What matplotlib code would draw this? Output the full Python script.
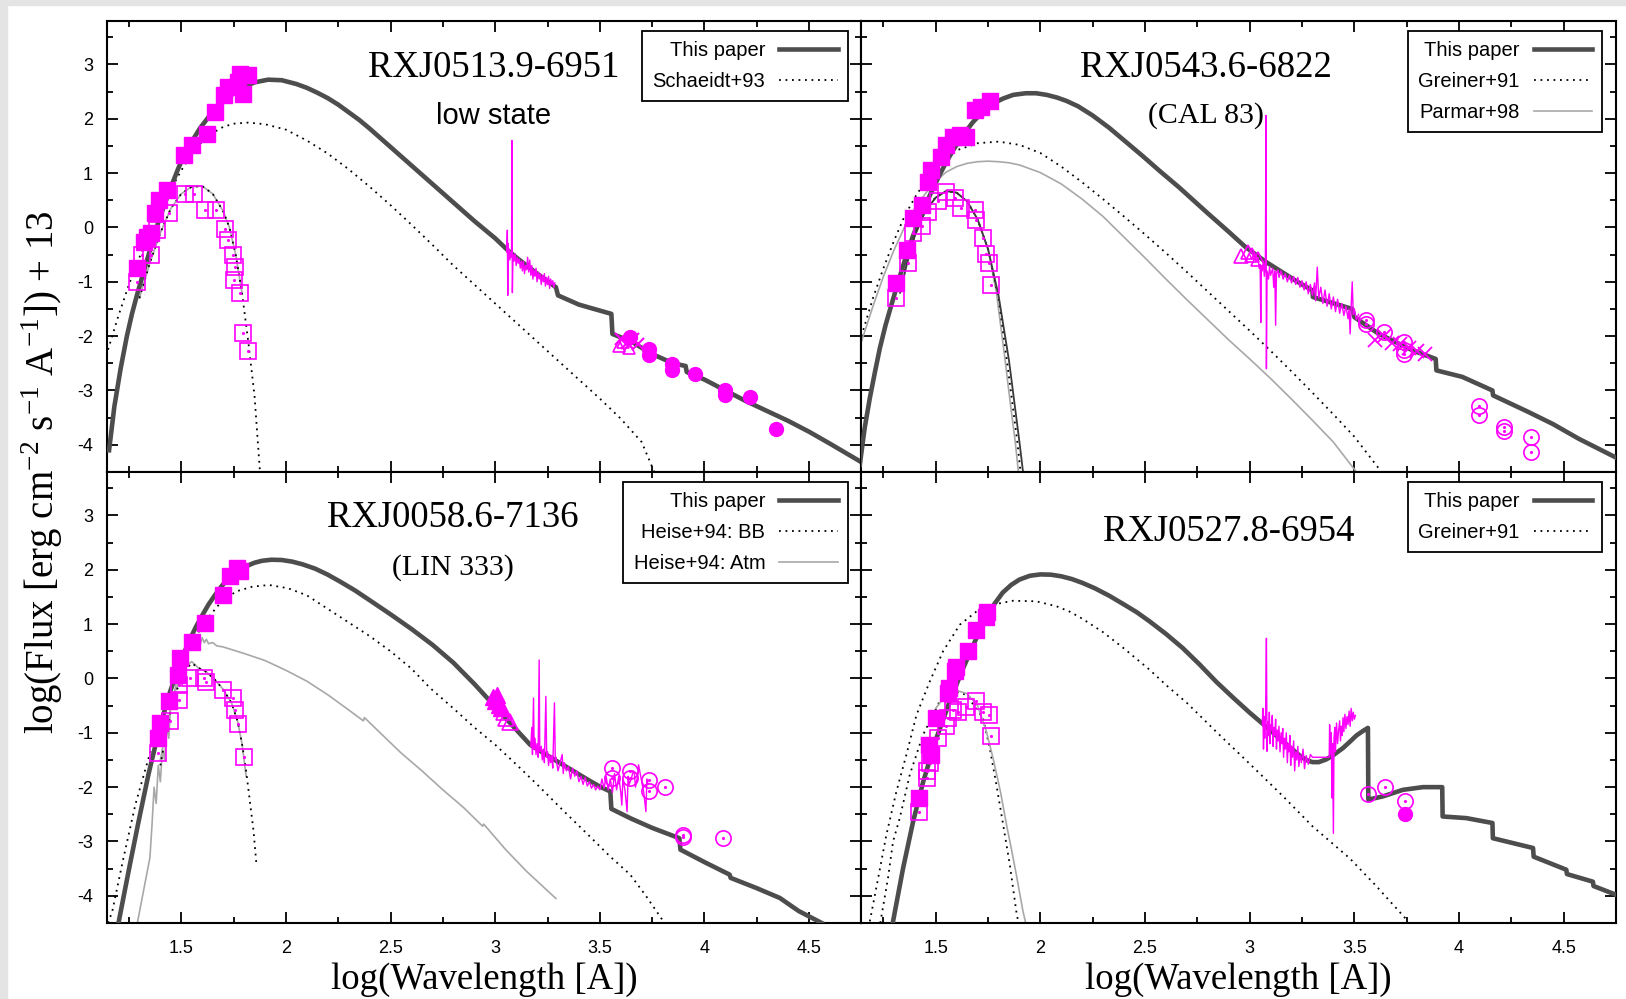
import matplotlib
matplotlib.use("Agg")
import matplotlib.pyplot as plt
from matplotlib.ticker import MultipleLocator, FixedLocator, FixedFormatter
from matplotlib.patches import Rectangle

plt.rcParams['font.family'] = 'Liberation Sans'
plt.rcParams['axes.unicode_minus'] = False

MAG = '#ff00ff'
MODEL = '#4d4d4d'
GREY = '#a8a8a8'
SERIF = 'Liberation Serif'

# ---------------- RXJ0513.9-6951 (low state) ----------------
p1_model_x = [1.155, 1.18, 1.21, 1.24, 1.265, 1.29, 1.313, 1.353, 1.392, 1.44, 1.487, 1.52, 1.55, 1.59, 1.63,
              1.67, 1.71, 1.75, 1.79, 1.85, 1.915, 1.98, 2.05, 2.10, 2.15, 2.20, 2.25, 2.30, 2.35, 2.40, 2.45,
              2.50, 2.60, 2.70, 2.80, 2.90, 3.00, 3.06, 3.10, 3.20, 3.29, 3.30, 3.40, 3.50, 3.555, 3.56, 3.65,
              3.75, 3.85, 3.91, 3.915, 4.00, 4.10, 4.20, 4.30, 4.40, 4.50, 4.60, 4.75]
p1_model_y = [-4.1, -3.3, -2.6, -2.0, -1.58, -1.22, -0.91, -0.38, 0.12, 0.64, 1.10, 1.37, 1.58, 1.83, 2.03,
              2.20, 2.34, 2.47, 2.57, 2.67, 2.72, 2.71, 2.64, 2.57, 2.48, 2.38, 2.26, 2.12, 1.98, 1.82, 1.65,
              1.48, 1.14, 0.80, 0.46, 0.12, -0.20, -0.42, -0.55, -0.85, -1.10, -1.25, -1.42, -1.53, -1.59,
              -1.96, -2.10, -2.33, -2.50, -2.55, -2.66, -2.80, -3.00, -3.20, -3.38, -3.56, -3.76, -3.98, -4.32]
p1_bb_x = [1.15, 1.20, 1.25, 1.30, 1.35, 1.40, 1.45, 1.50, 1.55, 1.60, 1.65, 1.70, 1.75, 1.82, 1.90, 2.00,
           2.10, 2.20, 2.30, 2.40, 2.50, 2.60, 2.70, 2.80, 2.90, 3.00, 3.10, 3.20, 3.30, 3.40, 3.50, 3.60,
           3.70, 3.76]
p1_bb_y = [-2.25, -1.62, -1.05, -0.55, -0.1, 0.32, 0.7, 1.05, 1.35, 1.58, 1.74, 1.85, 1.91, 1.93, 1.90, 1.80,
           1.60, 1.36, 1.07, 0.75, 0.41, 0.05, -0.32, -0.70, -1.05, -1.40, -1.75, -2.10, -2.45, -2.80, -3.15,
           -3.52, -3.95, -4.50]
p1_bump_x = [1.30, 1.35, 1.40, 1.45, 1.50, 1.55, 1.60, 1.65, 1.70, 1.73, 1.76, 1.79, 1.82, 1.85, 1.876]
p1_bump_y = [-1.3, -0.65, -0.1, 0.35, 0.62, 0.75, 0.76, 0.62, 0.3, 0.0, -0.5, -1.2, -2.1, -3.1, -4.5]
p1_fsq_x = [1.289, 1.321, 1.337, 1.353, 1.376, 1.392, 1.432, 1.511, 1.551, 1.622, 1.662, 1.706, 1.725,
            1.773, 1.780, 1.820, 1.796]
p1_fsq_y = [-0.75, -0.26, -0.17, -0.11, 0.26, 0.50, 0.69, 1.33, 1.51, 1.72, 2.12, 2.43, 2.58, 2.67, 2.83,
            2.80, 2.46]
p1_osq_x = [1.289, 1.313, 1.353, 1.384, 1.44, 1.52, 1.559, 1.614, 1.665, 1.709, 1.722, 1.749, 1.757, 1.754,
            1.78, 1.796, 1.82]
p1_osq_y = [-1.0, -0.51, -0.51, -0.05, 0.26, 0.62, 0.62, 0.32, 0.32, -0.02, -0.23, -0.51, -0.72, -0.97,
            -1.21, -1.94, -2.28]
p1_spec_x = [3.055, 3.058, 3.060, 3.062, 3.064, 3.066, 3.070, 3.075, 3.078, 3.080, 3.082, 3.085, 3.09, 3.095,
             3.10, 3.105, 3.11, 3.115, 3.12, 3.125, 3.13, 3.135, 3.14, 3.145, 3.15, 3.155, 3.16, 3.165, 3.17,
             3.175, 3.18, 3.185, 3.19, 3.195, 3.20, 3.205, 3.21, 3.215, 3.22, 3.225, 3.23, 3.235, 3.24, 3.245,
             3.25, 3.255, 3.26, 3.265, 3.27, 3.275, 3.28, 3.285]
p1_spec_y = [-0.45, -0.05, -1.25, -0.30, -0.55, -0.40, -0.60, -0.45, -0.55, 1.60, -1.20, -0.50, -0.62, -0.48,
             -0.70, -0.55, -0.66, -0.58, -0.75, -0.62, -0.80, -0.62, -0.85, -0.70, -0.78, -0.55, -0.82, -0.60,
             -0.88, -0.70, -0.95, -0.78, -0.90, -0.75, -1.00, -0.82, -0.95, -0.85, -1.05, -0.88, -1.00, -0.85,
             -1.08, -0.92, -1.05, -0.90, -1.12, -0.95, -1.05, -0.98, -1.10, -1.02]
p1_fcirc_x = [3.646, 3.734, 3.734, 3.845, 3.845, 3.954, 4.097, 4.097, 4.217, 4.343]
p1_fcirc_y = [-2.02, -2.23, -2.35, -2.51, -2.63, -2.70, -3.00, -3.09, -3.12, -3.71]
p1_cross_x = [3.60, 3.63, 3.66, 3.68]
p1_cross_y = [-2.05, -2.12, -2.05, -2.15]
p1_tri_x = [3.59, 3.61, 3.64]
p1_tri_y = [-2.18, -2.10, -2.22]

# ---------------- RXJ0543.6-6822 (CAL 83) ----------------
p2_model_x = [1.137, 1.16, 1.185, 1.21, 1.233, 1.26, 1.296, 1.33, 1.36, 1.39, 1.424, 1.455, 1.487, 1.52,
              1.551, 1.58, 1.615, 1.65, 1.678, 1.71, 1.742, 1.78, 1.82, 1.87, 1.93, 1.98, 2.03, 2.08, 2.124,
              2.18, 2.25, 2.33, 2.41, 2.49, 2.57, 2.662, 2.80, 2.90, 2.98, 3.076, 3.22, 3.30, 3.302, 3.49, 3.50,
              3.618, 3.777, 3.889, 3.892, 4.016, 4.16, 4.163, 4.334, 4.45, 4.573, 4.748]
p2_model_y = [-4.37, -3.70, -3.14, -2.65, -2.22, -1.80, -1.32, -0.88, -0.51, -0.17, 0.17, 0.45, 0.72, 0.98,
              1.21, 1.40, 1.62, 1.80, 1.94, 2.07, 2.18, 2.29, 2.37, 2.44, 2.47, 2.47, 2.44, 2.39, 2.33, 2.23,
              2.06, 1.83, 1.57, 1.31, 1.04, 0.74, 0.26, -0.08, -0.36, -0.63, -0.98, -1.16, -1.28, -1.50, -1.65,
              -1.96, -2.26, -2.42, -2.63, -2.75, -3.00, -3.09, -3.40, -3.62, -3.89, -4.23]
p2_bb_x = [1.145, 1.2, 1.25, 1.3, 1.35, 1.4, 1.45, 1.5, 1.55, 1.6, 1.7, 1.8, 1.9, 2.0, 2.1, 2.2, 2.3, 2.4,
           2.5, 2.6, 2.7, 2.8, 2.9, 3.0, 3.1, 3.2, 3.3, 3.4, 3.5, 3.62]
p2_bb_y = [-2.0, -1.3, -0.75, -0.25, 0.2, 0.55, 0.85, 1.1, 1.28, 1.42, 1.55, 1.58, 1.52, 1.37, 1.12, 0.83,
           0.52, 0.2, -0.13, -0.47, -0.82, -1.18, -1.54, -1.90, -2.27, -2.65, -3.04, -3.44, -3.85, -4.45]
p2_parmar_x = [1.145, 1.2, 1.25, 1.3, 1.35, 1.4, 1.45, 1.5, 1.55, 1.6, 1.65, 1.7, 1.75, 1.8, 1.85, 1.9, 2.0,
               2.1, 2.2, 2.3, 2.4, 2.5, 2.6, 2.7, 2.8, 2.9, 3.0, 3.1, 3.2, 3.3, 3.4, 3.51]
p2_parmar_y = [-2.1, -1.45, -0.9, -0.42, 0.0, 0.35, 0.62, 0.85, 1.02, 1.12, 1.18, 1.21, 1.22, 1.21, 1.19, 1.15,
               1.01, 0.80, 0.52, 0.20, -0.18, -0.56, -0.95, -1.33, -1.70, -2.07, -2.42, -2.78, -3.16, -3.55,
               -3.95, -4.50]
p2_bump_x = [1.33, 1.36, 1.40, 1.45, 1.50, 1.55, 1.60, 1.65, 1.70, 1.75, 1.80, 1.85, 1.88, 1.90, 1.917]
p2_bump_y = [-1.2, -0.7, -0.15, 0.3, 0.55, 0.67, 0.64, 0.48, 0.15, -0.4, -1.25, -2.45, -3.35, -3.95, -4.5]
p2_bump_grey_x = [1.33, 1.36, 1.40, 1.45, 1.50, 1.55, 1.60, 1.65, 1.70, 1.75, 1.79, 1.83, 1.86, 1.88, 1.895]
p2_bump_grey_y = [-1.2, -0.7, -0.15, 0.3, 0.55, 0.67, 0.64, 0.48, 0.15, -0.4, -1.2, -2.4, -3.35, -3.95, -4.5]
p2_bump_bb_x = [1.33, 1.36, 1.40, 1.45, 1.50, 1.55, 1.60, 1.65, 1.70, 1.75, 1.80, 1.84, 1.87, 1.89, 1.905]
p2_bump_bb_y = [-1.15, -0.65, -0.1, 0.32, 0.56, 0.67, 0.64, 0.48, 0.15, -0.4, -1.3, -2.45, -3.35, -3.95, -4.5]
p2_fsq_x = [1.312, 1.365, 1.392, 1.432, 1.463, 1.479, 1.527, 1.551, 1.583, 1.615, 1.646, 1.686, 1.718, 1.758]
p2_fsq_y = [-1.03, -0.41, 0.17, 0.41, 0.84, 1.06, 1.30, 1.52, 1.67, 1.70, 1.67, 2.16, 2.22, 2.32]
p2_osq_x = [1.312, 1.368, 1.392, 1.432, 1.463, 1.51, 1.551, 1.591, 1.623, 1.686, 1.694, 1.726, 1.742, 1.755,
            1.766]
p2_osq_y = [-1.30, -0.66, -0.11, 0.02, 0.29, 0.48, 0.66, 0.54, 0.35, 0.32, 0.14, -0.20, -0.48, -0.66, -1.06]
p2_spec_x = [3.000, 3.01, 3.02, 3.03, 3.04, 3.045, 3.05, 3.053, 3.056, 3.06, 3.065, 3.07, 3.075, 3.078, 3.080,
             3.083, 3.09, 3.095, 3.10, 3.11, 3.115, 3.12, 3.124, 3.128, 3.135, 3.14, 3.15, 3.16, 3.17, 3.18,
             3.19, 3.20, 3.21, 3.22, 3.23, 3.24, 3.25, 3.26, 3.27, 3.28, 3.29, 3.30, 3.31, 3.315, 3.323, 3.33,
             3.34, 3.35, 3.36, 3.37, 3.38, 3.39, 3.40, 3.41, 3.42, 3.43, 3.44, 3.45, 3.46, 3.47, 3.475, 3.48,
             3.485, 3.49, 3.495, 3.50, 3.51, 3.52]
p2_spec_y = [-0.50, -0.58, -0.48, -0.62, -0.55, -0.75, -0.68, -1.75, -0.70, -0.80, -0.62, -0.90, -0.70, 2.06,
             -2.60, -0.80, -0.95, -0.72, -0.88, -0.75, -1.10, -0.80, -1.80, -0.85, -0.78, -0.92, -0.80, -0.95,
             -0.85, -1.00, -0.88, -1.02, -0.90, -1.05, -0.92, -1.10, -0.98, -1.15, -1.00, -1.22, -1.05, -1.25,
             -1.02, -1.35, -0.73, -1.30, -1.10, -1.40, -1.15, -1.45, -1.22, -1.50, -1.28, -1.55, -1.32, -1.58,
             -1.40, -1.62, -1.45, -1.68, -1.50, -1.96, -1.45, -1.00, -1.60, -1.50, -1.70, -1.60]
p2_tri_x = [2.96, 2.99, 3.01, 3.04]
p2_tri_y = [-0.52, -0.45, -0.50, -0.58]
p2_circ_x = [3.557, 3.557, 3.642, 3.737, 3.737, 3.737, 4.096, 4.096, 4.215, 4.215, 4.342, 4.342]
p2_circ_y = [-1.71, -1.77, -1.93, -2.11, -2.26, -2.33, -3.29, -3.46, -3.67, -3.75, -3.85, -4.13]
p2_cross_x = [3.60, 3.64, 3.68, 3.72, 3.76, 3.80, 3.84]
p2_cross_y = [-2.08, -2.00, -2.12, -2.15, -2.22, -2.28, -2.32]

# ---------------- RXJ0058.6-7136 (LIN 333) ----------------
p3_model_x = [1.20, 1.248, 1.296, 1.344, 1.392, 1.44, 1.487, 1.535, 1.57, 1.60, 1.63, 1.662, 1.695, 1.726,
              1.76, 1.806, 1.85, 1.885, 1.93, 1.98, 2.03, 2.08, 2.14, 2.20, 2.26, 2.33, 2.40, 2.50, 2.60, 2.70,
              2.80, 2.90, 3.00, 3.10, 3.167, 3.25, 3.35, 3.45, 3.50, 3.55, 3.555, 3.65, 3.75, 3.88, 3.885, 4.00,
              4.12, 4.125, 4.25, 4.36, 4.45, 4.56]
p3_model_y = [-4.5, -3.55, -2.63, -1.75, -0.98, -0.32, 0.22, 0.67, 0.95, 1.16, 1.36, 1.54, 1.71, 1.84, 1.96,
              2.06, 2.13, 2.165, 2.185, 2.18, 2.15, 2.10, 2.02, 1.91, 1.78, 1.62, 1.44, 1.18, 0.91, 0.62, 0.29,
              -0.10, -0.52, -0.94, -1.22, -1.42, -1.65, -1.88, -1.99, -2.08, -2.40, -2.58, -2.75, -2.94, -3.15,
              -3.38, -3.61, -3.67, -3.86, -4.04, -4.28, -4.50]
p3_bb_x = [1.15, 1.17, 1.22, 1.28, 1.33, 1.39, 1.455, 1.52, 1.60, 1.68, 1.76, 1.84, 1.92, 2.01, 2.10, 2.20,
           2.30, 2.40, 2.50, 2.60, 2.69, 2.80, 2.90, 3.00, 3.10, 3.20, 3.33, 3.45, 3.55, 3.645, 3.72, 3.80]
p3_bb_y = [-4.5, -4.29, -3.37, -2.33, -1.65, -0.85, -0.18, 0.37, 0.99, 1.36, 1.60, 1.69, 1.72, 1.66, 1.53,
           1.28, 1.03, 0.78, 0.50, 0.18, -0.18, -0.55, -0.90, -1.22, -1.58, -1.95, -2.45, -2.90, -3.28, -3.61,
           -4.0, -4.45]
p3_atm_x = [1.29, 1.31, 1.33, 1.35, 1.36, 1.37, 1.38, 1.39, 1.40, 1.41, 1.42, 1.43, 1.44, 1.45, 1.46, 1.48,
            1.50, 1.52, 1.54, 1.55, 1.56, 1.57, 1.58, 1.59, 1.60, 1.61, 1.62, 1.63, 1.65, 1.67, 1.70, 1.75,
            1.80, 1.90, 2.00, 2.10, 2.20, 2.30, 2.37, 2.375, 2.45, 2.55, 2.65, 2.75, 2.85, 2.94, 2.945, 3.05,
            3.15, 3.29]
p3_atm_y = [-4.5, -4.1, -3.7, -3.3, -2.7, -2.0, -2.3, -1.6, -1.9, -1.3, -1.5, -0.9, -1.1, -0.5, -0.4, 0.0,
            0.25, 0.45, 0.62, 0.55, 0.74, 0.60, 0.70, 0.62, 0.75, 0.66, 0.72, 0.64, 0.66, 0.60, 0.58, 0.52,
            0.46, 0.33, 0.15, -0.05, -0.30, -0.58, -0.78, -0.72, -1.00, -1.37, -1.70, -2.05, -2.38, -2.72,
            -2.68, -3.15, -3.55, -4.05]
p3_bump_x = [1.40, 1.43, 1.46, 1.50, 1.53, 1.55, 1.58, 1.62, 1.66, 1.70, 1.74, 1.77, 1.79, 1.81]
p3_bump_y = [-1.5, -0.9, -0.35, 0.05, 0.25, 0.31, 0.20, 0.12, -0.02, -0.20, -0.45, -0.80, -1.20, -1.80]
p3_bump_bb_x = [1.40, 1.43, 1.46, 1.50, 1.53, 1.55, 1.58, 1.62, 1.66, 1.70, 1.74, 1.77, 1.79, 1.806, 1.822,
                1.845, 1.86]
p3_bump_bb_y = [-1.6, -0.95, -0.4, 0.0, 0.2, 0.28, 0.2, 0.12, -0.02, -0.2, -0.45, -0.8, -1.2, -1.59, -2.08,
                -2.8, -3.46]
p3_fsq_x = [1.389, 1.40, 1.439, 1.484, 1.492, 1.551, 1.615, 1.697, 1.734, 1.766, 1.782]
p3_fsq_y = [-1.10, -0.82, -0.42, 0.07, 0.37, 0.68, 1.02, 1.54, 1.88, 2.03, 1.97]
p3_osq_x = [1.389, 1.447, 1.487, 1.49, 1.543, 1.607, 1.619, 1.697, 1.747, 1.758, 1.771, 1.798]
p3_osq_y = [-1.37, -0.78, -0.39, -0.12, 0.0, 0.0, -0.06, -0.21, -0.36, -0.58, -0.84, -1.45]
p3_ftri_x = [2.99, 3.00, 3.01, 3.02, 3.03]
p3_ftri_y = [-0.35, -0.42, -0.30, -0.48, -0.55]
p3_otri_x = [3.04, 3.05, 3.07]
p3_otri_y = [-0.62, -0.72, -0.80]
p3_spec_x = [3.17, 3.175, 3.178, 3.183, 3.186, 3.19, 3.195, 3.20, 3.205, 3.21, 3.213, 3.22, 3.225, 3.23,
             3.235, 3.242, 3.246, 3.25, 3.255, 3.26, 3.265, 3.27, 3.275, 3.283, 3.287, 3.29, 3.30, 3.31, 3.32,
             3.325, 3.33, 3.34, 3.35, 3.36, 3.37, 3.38, 3.39, 3.40, 3.41, 3.42, 3.43, 3.44, 3.45, 3.46, 3.47,
             3.48, 3.49, 3.50, 3.51, 3.52, 3.53, 3.54, 3.55, 3.56, 3.57, 3.58, 3.59, 3.60, 3.605, 3.61, 3.62,
             3.63, 3.635, 3.64, 3.65, 3.66, 3.665, 3.67, 3.68, 3.685, 3.70, 3.71, 3.72, 3.725, 3.73]
p3_spec_y = [-1.25, -0.90, -1.40, -0.36, -1.30, -1.10, -1.40, -1.20, -1.45, 0.34, -1.35, -1.25, -1.50, -1.30,
             -1.55, -0.33, -1.45, -1.35, -1.60, -1.40, -1.55, -1.42, -1.65, -0.45, -1.50, -1.45, -1.70, -1.55,
             -1.40, -1.75, -1.55, -1.70, -1.62, -1.85, -1.65, -1.80, -1.70, -1.90, -1.80, -1.95, -1.82, -1.98,
             -1.90, -2.02, -1.95, -2.05, -1.98, -2.05, -1.85, -2.02, -1.80, -2.05, -1.85, -2.10, -1.75, -2.05,
             -1.80, -2.10, -2.33, -1.85, -2.05, -2.45, -1.80, -1.95, -1.85, -1.70, -1.75, -2.00, -1.80, -1.59,
             -1.90, -2.10, -2.45, -1.85, -1.95]
p3_circ_x = [3.557, 3.557, 3.642, 3.642, 3.737, 3.737, 3.81, 3.896, 3.896, 4.09]
p3_circ_y = [-1.65, -1.83, -1.71, -1.83, -1.87, -2.08, -1.99, -2.88, -2.92, -2.94]

# ---------------- RXJ0527.8-6954 ----------------
p4_model_x = [1.296, 1.344, 1.392, 1.44, 1.503, 1.567, 1.631, 1.694, 1.74, 1.78, 1.82, 1.86, 1.90, 1.95, 2.00,
              2.05, 2.10, 2.15, 2.20, 2.26, 2.33, 2.40, 2.46, 2.522, 2.60, 2.68, 2.76, 2.84, 2.92, 3.00, 3.064,
              3.16, 3.239, 3.27, 3.30, 3.33, 3.366, 3.40, 3.446, 3.48, 3.51, 3.54, 3.565, 3.567, 3.637, 3.732,
              3.828, 3.92, 3.922, 4.035, 4.16, 4.162, 4.354, 4.357, 4.513, 4.516, 4.64, 4.643, 4.75]
p4_model_y = [-4.47, -3.49, -2.63, -1.90, -1.10, -0.42, 0.19, 0.74, 1.10, 1.37, 1.58, 1.72, 1.82, 1.89, 1.915,
              1.91, 1.88, 1.83, 1.76, 1.66, 1.52, 1.36, 1.22, 1.05, 0.82, 0.56, 0.26, -0.06, -0.35, -0.63, -0.84,
              -1.16, -1.42, -1.50, -1.54, -1.54, -1.49, -1.41, -1.28, -1.16, -1.05, -0.97, -0.91, -2.23, -2.17,
              -2.05, -2.00, -2.00, -2.54, -2.57, -2.66, -2.94, -3.12, -3.28, -3.52, -3.60, -3.74, -3.82, -3.98]
p4_bb_x = [1.185, 1.225, 1.264, 1.312, 1.36, 1.408, 1.471, 1.535, 1.615, 1.694, 1.774, 1.869, 1.98, 2.076,
           2.14, 2.20, 2.30, 2.40, 2.522, 2.60, 2.70, 2.84, 3.00, 3.16, 3.30, 3.478, 3.60, 3.75]
p4_bb_y = [-4.47, -3.67, -2.88, -2.08, -1.40, -0.67, -0.06, 0.50, 0.99, 1.23, 1.36, 1.43, 1.42, 1.33, 1.23,
           1.10, 0.85, 0.55, 0.16, -0.12, -0.45, -0.98, -1.57, -2.17, -2.72, -3.31, -3.80, -4.44]
p4_bump_bb_x = [1.235, 1.272, 1.296, 1.328, 1.376, 1.439, 1.519, 1.567, 1.646, 1.726, 1.758, 1.79, 1.822,
                1.854, 1.885, 1.895]
p4_bump_bb_y = [-4.5, -3.67, -3.0, -2.57, -1.77, -1.04, -0.42, -0.21, -0.30, -0.73, -1.28, -1.96, -2.69,
                -3.43, -4.29, -4.5]
p4_bump_x = [1.50, 1.55, 1.60, 1.65, 1.70, 1.74, 1.774, 1.81, 1.838, 1.862, 1.885, 1.917, 1.93]
p4_bump_y = [-0.55, -0.30, -0.22, -0.28, -0.50, -0.95, -1.47, -2.10, -2.69, -3.15, -3.61, -4.29, -4.50]
p4_fsq_x = [1.419, 1.467, 1.475, 1.503, 1.559, 1.564, 1.591, 1.599, 1.654, 1.694, 1.742, 1.745]
p4_fsq_y = [-2.20, -1.22, -1.40, -0.73, -0.27, -0.18, 0.13, 0.22, 0.50, 0.90, 1.14, 1.23]
p4_osq_x = [1.419, 1.459, 1.459, 1.471, 1.511, 1.551, 1.559, 1.583, 1.607, 1.646, 1.694, 1.726, 1.755, 1.763]
p4_osq_y = [-2.45, -1.83, -1.71, -1.56, -1.10, -0.88, -0.73, -0.58, -0.61, -0.52, -0.42, -0.61, -0.67, -1.05]
p4_spec_x = [3.060, 3.063, 3.066, 3.069, 3.072, 3.076, 3.080, 3.083, 3.087, 3.09, 3.094, 3.097, 3.10, 3.104,
             3.108, 3.112, 3.115, 3.12, 3.124, 3.128, 3.132, 3.136, 3.14, 3.145, 3.15, 3.154, 3.158, 3.162,
             3.166, 3.17, 3.175, 3.18, 3.184, 3.188, 3.192, 3.196, 3.20, 3.205, 3.21, 3.215, 3.22, 3.225, 3.23,
             3.235, 3.24, 3.247, 3.255, 3.262, 3.27, 3.28, 3.29, 3.30, 3.33, 3.36, 3.38, 3.382, 3.386, 3.39,
             3.393, 3.396, 3.40, 3.403, 3.407, 3.41, 3.415, 3.42, 3.425, 3.43, 3.434, 3.438, 3.442, 3.446, 3.45,
             3.455, 3.46, 3.465, 3.47, 3.475, 3.48, 3.485, 3.49, 3.495, 3.50, 3.505]
p4_spec_y = [-0.85, -0.55, -1.30, -0.70, -1.10, -0.65, 0.74, -1.34, -0.80, -1.05, -0.62, -1.20, -0.85, -0.95,
             -0.68, -1.25, -0.90, -1.05, -0.75, -1.30, -0.95, -1.15, -0.88, -1.35, -1.00, -1.20, -0.92, -1.45,
             -1.10, -1.30, -1.00, -1.55, -1.20, -1.35, -1.05, -1.60, -1.25, -1.45, -1.15, -1.70, -1.35, -1.50,
             -1.25, -1.62, -1.40, -1.55, -1.30, -1.66, -1.42, -1.58, -1.40, -1.45, -1.45, -1.45, -1.45, -0.85,
             -1.40, -1.00, -2.20, -1.20, -2.85, -1.10, -0.90, -1.35, -0.82, -1.20, -0.95, -0.78, -1.15, -0.88,
             -1.05, -0.72, -0.98, -0.66, -0.92, -0.70, -0.85, -0.60, -0.88, -0.55, -0.78, -0.62, -0.75, -0.68]
p4_circ_x = [3.565, 3.645, 3.74]
p4_circ_y = [-2.13, -2.00, -2.26]
p4_fcirc_x = [3.74]
p4_fcirc_y = [-2.50]

x_ticks = [1.5, 2.0, 2.5, 3.0, 3.5, 4.0, 4.5]
x_tick_labels = ['1.5', '2', '2.5', '3', '3.5', '4', '4.5']
y_ticks = [-4, -3, -2, -1, 0, 1, 2, 3]
y_tick_labels = ['-4', '-3', '-2', '-1', '0', '1', '2', '3']


def model(ax, x, y, label=None):
    return ax.plot(x, y, color=MODEL, lw=3.3, solid_joinstyle='round', zorder=3, label=label)[0]


def dotted(ax, x, y, label=None):
    return ax.plot(x, y, color='black', lw=1.3, ls=(0, (1, 2.6)), zorder=2, label=label)[0]


def thin(ax, x, y, color=GREY, label=None):
    return ax.plot(x, y, color=color, lw=1.2, zorder=2, label=label)[0]


def spectrum(ax, x, y):
    ax.plot(x, y, color=MAG, lw=1.0, zorder=4)


def filled_sq(ax, x, y):
    ax.plot(x, y, 's', ms=11, color=MAG, mec=MAG, ls='none', zorder=5)


def open_pts(ax, x, y, marker='s', ms=11):
    ax.plot(x, y, marker, ms=ms, mfc='none', mec=MAG, mew=1.2, ls='none', zorder=5)
    ax.plot(x, y, '.', ms=2.5, color=MAG, ls='none', zorder=5)


fig, axes = plt.subplots(2, 2, figsize=(16.26, 9.99), dpi=100, sharex=True, sharey=True)
fig.subplots_adjust(left=0.0658, right=0.9938, bottom=0.0761, top=0.979, wspace=0, hspace=0)

# thin grey frame along the left and top edges
fig.patches.append(Rectangle((0, 0), 7 / 1626, 1, transform=fig.transFigure, color='#e4e4e4', zorder=-5))
fig.patches.append(Rectangle((0, 1 - 5 / 999), 1, 5 / 999, transform=fig.transFigure, color='#e4e4e4', zorder=-5))

ax1, ax2, ax3, ax4 = axes[0, 0], axes[0, 1], axes[1, 0], axes[1, 1]

# panel 1
h1 = [model(ax1, p1_model_x, p1_model_y, 'This paper'), dotted(ax1, p1_bb_x, p1_bb_y, 'Schaeidt+93')]
thin(ax1, p1_bump_x[:-3], p1_bump_y[:-3])
dotted(ax1, p1_bump_x, p1_bump_y)
filled_sq(ax1, p1_fsq_x, p1_fsq_y)
open_pts(ax1, p1_osq_x, p1_osq_y)
spectrum(ax1, p1_spec_x, p1_spec_y)
ax1.plot(p1_fcirc_x, p1_fcirc_y, 'o', ms=10, color=MAG, ls='none', zorder=5)
ax1.plot(p1_cross_x, p1_cross_y, 'x', ms=9, mew=1.5, color=MAG, ls='none', zorder=5)
ax1.plot(p1_tri_x, p1_tri_y, '^', ms=9, mfc='none', mec=MAG, mew=1.2, ls='none', zorder=5)

# panel 2
h2 = [model(ax2, p2_model_x, p2_model_y, 'This paper'), dotted(ax2, p2_bb_x, p2_bb_y, 'Greiner+91'),
      thin(ax2, p2_parmar_x, p2_parmar_y, label='Parmar+98')]
ax2.plot(p2_bump_x, p2_bump_y, color='#3a3a3a', lw=1.3, zorder=3)
thin(ax2, p2_bump_grey_x, p2_bump_grey_y)
dotted(ax2, p2_bump_bb_x, p2_bump_bb_y)
filled_sq(ax2, p2_fsq_x, p2_fsq_y)
open_pts(ax2, p2_osq_x, p2_osq_y)
spectrum(ax2, p2_spec_x, p2_spec_y)
ax2.plot(p2_tri_x, p2_tri_y, '^', ms=10, mfc='none', mec=MAG, mew=1.2, ls='none', zorder=5)
open_pts(ax2, p2_circ_x, p2_circ_y, 'o', 11)
ax2.plot(p2_cross_x, p2_cross_y, 'x', ms=10, mew=1.3, color=MAG, ls='none', zorder=5)

# panel 3
h3 = [model(ax3, p3_model_x, p3_model_y, 'This paper'), dotted(ax3, p3_bb_x, p3_bb_y, 'Heise+94: BB'),
      thin(ax3, p3_atm_x, p3_atm_y, label='Heise+94: Atm')]
thin(ax3, p3_bump_x, p3_bump_y)
dotted(ax3, p3_bump_bb_x, p3_bump_bb_y)
filled_sq(ax3, p3_fsq_x, p3_fsq_y)
open_pts(ax3, p3_osq_x, p3_osq_y)
ax3.plot(p3_ftri_x, p3_ftri_y, '^', ms=11, color=MAG, ls='none', zorder=5)
ax3.plot(p3_otri_x, p3_otri_y, '^', ms=11, mfc='none', mec=MAG, mew=1.2, ls='none', zorder=5)
spectrum(ax3, p3_spec_x, p3_spec_y)
open_pts(ax3, p3_circ_x, p3_circ_y, 'o', 11)

# panel 4
h4 = [model(ax4, p4_model_x, p4_model_y, 'This paper'), dotted(ax4, p4_bb_x, p4_bb_y, 'Greiner+91')]
dotted(ax4, p4_bump_bb_x, p4_bump_bb_y)
thin(ax4, p4_bump_x, p4_bump_y)
filled_sq(ax4, p4_fsq_x, p4_fsq_y)
open_pts(ax4, p4_osq_x, p4_osq_y)
spectrum(ax4, p4_spec_x, p4_spec_y)
open_pts(ax4, p4_circ_x, p4_circ_y, 'o', 11)
ax4.plot(p4_fcirc_x, p4_fcirc_y, 'o', ms=10, color=MAG, ls='none', zorder=5)

for ax, hs in [(ax1, h1), (ax2, h2), (ax3, h3), (ax4, h4)]:
    ax.set_xlim(1.145, 4.75)
    ax.set_ylim(-4.5, 3.8)
    ax.xaxis.set_major_locator(FixedLocator(x_ticks))
    ax.xaxis.set_major_formatter(FixedFormatter(x_tick_labels))
    ax.yaxis.set_major_locator(FixedLocator(y_ticks))
    ax.yaxis.set_major_formatter(FixedFormatter(y_tick_labels))
    ax.xaxis.set_minor_locator(MultipleLocator(0.25))
    ax.yaxis.set_minor_locator(MultipleLocator(0.5))
    ax.tick_params(which='both', direction='in', top=True, right=True, width=1.3, labelsize=13)
    ax.tick_params(axis='x', pad=12)
    ax.tick_params(axis='y', pad=10)
    ax.tick_params(which='major', length=8)
    ax.tick_params(which='minor', length=4.5)
    for s in ax.spines.values():
        s.set_linewidth(1.5)
    leg = ax.legend(handles=hs, loc='upper right', bbox_to_anchor=(0.982, 0.978), markerfirst=False,
                    alignment='right', fancybox=False, edgecolor='black', framealpha=1, fontsize=14.5,
                    handlelength=2.9, borderaxespad=0, labelspacing=0.6, borderpad=0.5, handletextpad=0.7)
    leg.get_frame().set_linewidth(1.3)

ax1.text(0.513, 0.896, 'RXJ0513.9-6951', transform=ax1.transAxes, ha='center', va='center',
         fontsize=26.5, family=SERIF)
ax1.text(0.513, 0.79, 'low state', transform=ax1.transAxes, ha='center', va='center', fontsize=21)
ax2.text(0.457, 0.896, 'RXJ0543.6-6822', transform=ax2.transAxes, ha='center', va='center',
         fontsize=26.5, family=SERIF)
ax2.text(0.457, 0.79, '(CAL 83)', transform=ax2.transAxes, ha='center', va='center', fontsize=21.5, family=SERIF)
ax3.text(0.458, 0.898, 'RXJ0058.6-7136', transform=ax3.transAxes, ha='center', va='center',
         fontsize=26.5, family=SERIF)
ax3.text(0.458, 0.788, '(LIN 333)', transform=ax3.transAxes, ha='center', va='center', fontsize=21.5, family=SERIF)
ax4.text(0.487, 0.868, 'RXJ0527.8-6954', transform=ax4.transAxes, ha='center', va='center',
         fontsize=26.5, family=SERIF)

fig.text(0.026, 0.527, r'log(Flux [erg cm$^{\mathregular{-2}}$ s$^{\mathregular{-1}}$ A$^{\mathregular{-1}}$]) + 13',
         rotation=90, ha='center', va='center', fontsize=28, family=SERIF)
for ax in (ax3, ax4):
    ax.set_xlabel('log(Wavelength [A])', fontsize=26.5, family=SERIF, labelpad=4)

fig.savefig('out.png', dpi=100, facecolor='white')
